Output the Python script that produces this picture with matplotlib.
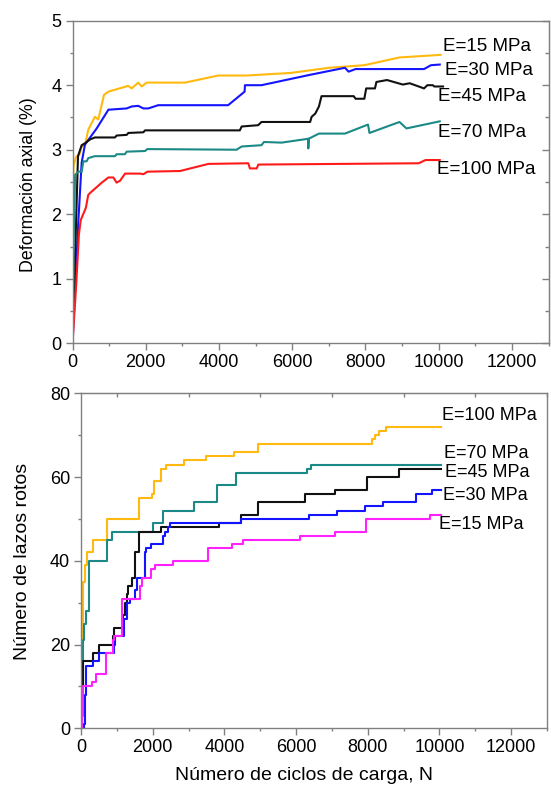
import matplotlib

matplotlib.use("Agg")
import matplotlib.pyplot as plt
from matplotlib.ticker import MultipleLocator

plt.rcParams["font.family"] = ["Liberation Sans", "DejaVu Sans"]

# --- panel superior: deformacion axial (%) vs ciclos ---
n_e15 = [0, 25, 95, 185, 250, 340, 430, 610, 705, 860, 980, 1520, 1615, 1795, 1890,
         2025, 3070, 3980, 4750, 5960, 6480, 7010, 7970, 8930, 10050]
d_e15 = [0, 2.74, 2.89, 2.92, 3.05, 3.07, 3.31, 3.51, 3.47, 3.85, 3.90, 3.99, 3.95, 4.04, 3.98,
         4.04, 4.04, 4.15, 4.15, 4.19, 4.23, 4.27, 4.31, 4.43, 4.47]

n_e30 = [0, 25, 160, 250, 340, 660, 980, 1480, 1615, 1795, 1935, 2070, 2340, 4250, 4700,
         4710, 5160, 6480, 7440, 7540, 7730, 9600, 9790, 10030]
d_e30 = [0, 0.3, 1.9, 2.8, 3.08, 3.33, 3.62, 3.64, 3.67, 3.68, 3.64, 3.64, 3.69, 3.69, 3.90,
         4.00, 4.00, 4.16, 4.27, 4.21, 4.25, 4.25, 4.31, 4.32]

n_e45 = [0, 150, 250, 340, 480, 610, 1160, 1205, 1480, 1525, 1935, 1980, 4570, 4620, 5070,
         5160, 6490, 6530, 6630, 6730, 6800, 7680, 7730, 7970, 8020, 8260, 8300, 8590, 9020,
         9210, 9600, 9690, 9840, 9880, 10120]
d_e45 = [0, 2.9, 3.07, 3.10, 3.16, 3.19, 3.19, 3.22, 3.23, 3.26, 3.27, 3.30, 3.30, 3.36, 3.38,
         3.43, 3.43, 3.51, 3.56, 3.67, 3.83, 3.83, 3.79, 3.79, 3.95, 3.95, 4.05, 4.08, 4.01,
         4.03, 3.95, 4.00, 4.00, 3.98, 3.98]

n_e70 = [0, 30, 70, 160, 250, 295, 385, 430, 610, 1160, 1205, 1430, 1480, 1980, 2045, 4480,
         4620, 5160, 5230, 5710, 6440, 6440, 6450, 6730, 7440, 8070, 8110, 8930, 9120, 10030]
d_e70 = [0, 1.5, 2.61, 2.66, 2.66, 2.82, 2.82, 2.87, 2.90, 2.90, 2.93, 2.93, 2.97, 2.98, 3.01,
         3.00, 3.05, 3.07, 3.12, 3.11, 3.17, 3.02, 3.17, 3.25, 3.25, 3.39, 3.26, 3.43, 3.33, 3.44]

n_e100 = [0, 100, 175, 225, 365, 430, 480, 800, 980, 1115, 1205, 1300, 1435, 1845, 1935, 2045,
          2935, 3710, 4800, 4845, 5030, 5075, 9455, 9640, 10030]
d_e100 = [0, 0.9, 1.69, 1.91, 2.10, 2.30, 2.33, 2.49, 2.57, 2.57, 2.49, 2.52, 2.63, 2.63, 2.62,
          2.66, 2.67, 2.78, 2.79, 2.71, 2.71, 2.77, 2.79, 2.84, 2.84]

# --- panel inferior: numero de lazos rotos (escalones) ---
nb_e100 = [0, 20, 50, 112, 177, 344, 716, 1628, 1972, 2037, 2223, 2372, 2874, 3478, 4269,
           4948, 8130, 8200, 8300, 8520, 10040]
l_e100 = [0, 20, 35, 39, 42, 45, 50, 55, 56, 59, 62, 63, 64, 65, 66, 68, 69, 70, 71, 72, 72]

nb_e70 = [0, 20, 47, 84, 140, 233, 735, 856, 2018, 2297, 3153, 3804, 4315, 6218, 6300, 6413,
          10040]
l_e70 = [0, 10, 21, 25, 28, 40, 45, 47, 49, 52, 54, 58, 61, 61, 62, 63, 63]

nb_e45 = [0, 20, 47, 344, 512, 902, 921, 1181, 1228, 1274, 1321, 1414, 1507, 1628, 2223, 3860,
          4455, 4948, 6250, 7100, 7982, 8864, 10040]
l_e45 = [0, 10, 16, 18, 20, 22, 24, 27, 30, 32, 34, 36, 42, 47, 48, 49, 51, 54, 56, 57, 60, 62, 62]

nb_e30 = [0, 84, 110, 140, 344, 512, 921, 949, 1200, 1274, 1367, 1507, 1572, 1786, 1814, 1944,
          2279, 2344, 2437, 2483, 4455, 6365, 7150, 7935, 8424, 9335, 9796, 10040]
l_e30 = [0, 1, 8, 15, 16, 18, 20, 22, 26, 30, 31, 33, 36, 42, 43, 44, 46, 47, 48, 49, 50, 51,
         52, 53, 54, 56, 57, 57]

nb_e15 = [0, 20, 47, 298, 419, 688, 884, 921, 1135, 1646, 1693, 1944, 2065, 2576, 3553, 4204,
          4529, 6110, 7100, 7953, 9747, 10040]
l_e15 = [0, 3, 10, 11, 13, 18, 21, 22, 31, 34, 36, 38, 39, 40, 43, 44, 45, 46, 47, 50, 51, 51]

labels = ["E=15 MPa", "E=30 MPa", "E=45 MPa", "E=70 MPa", "E=100 MPa"]
top_label_pos = [(10120, 4.60), (10170, 4.23), (9980, 3.82), (9980, 3.26), (9955, 2.69)]
bot_label_pos = [(9995, 48.6), (10090, 55.7), (10153, 61.0), (10125, 65.7), (10060, 74.6)]

YELLOW = "#FFB90F"
BLUE = "#1414FF"
BLACK = "#111111"
TEAL = "#1B8A86"
RED = "#FF1A1A"
MAGENTA = "#FF22FF"
SPINE = "#808080"


def style_axes(ax):
    for s in ax.spines.values():
        s.set_color(SPINE)
        s.set_linewidth(1.0)
    ax.tick_params(which="both", direction="out", colors=SPINE, labelcolor="black",
                   labelsize=13, width=1.0, pad=3)
    ax.tick_params(which="major", length=5)
    ax.tick_params(which="minor", length=2.5)


fig = plt.figure(figsize=(5.51, 7.89), dpi=100)
ax1 = fig.add_axes([0.1316, 0.5649, 0.8639, 0.4089])
ax2 = fig.add_axes([0.1470, 0.0769, 0.8457, 0.4246])

lw = 1.5
ax1.plot(n_e15, d_e15, color=YELLOW, lw=lw)
ax1.plot(n_e30, d_e30, color=BLUE, lw=lw)
ax1.plot(n_e45, d_e45, color=BLACK, lw=lw)
ax1.plot(n_e70, d_e70, color=TEAL, lw=lw)
ax1.plot(n_e100, d_e100, color=RED, lw=lw)
ax1.set_xlim(0, 13000)
ax1.set_ylim(0, 5)
ax1.xaxis.set_major_locator(MultipleLocator(2000))
ax1.xaxis.set_minor_locator(MultipleLocator(1000))
ax1.yaxis.set_major_locator(MultipleLocator(1))
ax1.yaxis.set_minor_locator(MultipleLocator(0.5))
style_axes(ax1)
# ticks hacia dentro en el eje derecho
ax1r = ax1.secondary_yaxis("right")
ax1r.yaxis.set_major_locator(MultipleLocator(1))
ax1r.yaxis.set_minor_locator(MultipleLocator(0.5))
ax1r.tick_params(which="both", direction="in", colors=SPINE, labelright=False, width=1.0)
ax1r.tick_params(which="major", length=5)
ax1r.tick_params(which="minor", length=3)
ax1r.spines["right"].set_color(SPINE)
for txt, (x, y) in zip(labels, top_label_pos):
    ax1.text(x, y, txt, fontsize=13.5, ha="left", va="center", clip_on=False)

ax2.plot(nb_e100, l_e100, color=YELLOW, lw=lw, drawstyle="steps-post")
ax2.plot(nb_e70, l_e70, color=TEAL, lw=lw, drawstyle="steps-post")
ax2.plot(nb_e45, l_e45, color=BLACK, lw=lw, drawstyle="steps-post")
ax2.plot(nb_e30, l_e30, color=BLUE, lw=lw, drawstyle="steps-post")
ax2.plot(nb_e15, l_e15, color=MAGENTA, lw=lw, drawstyle="steps-post")
ax2.set_xlim(0, 13000)
ax2.set_ylim(0, 80)
ax2.xaxis.set_major_locator(MultipleLocator(2000))
ax2.xaxis.set_minor_locator(MultipleLocator(1000))
ax2.yaxis.set_major_locator(MultipleLocator(20))
ax2.yaxis.set_minor_locator(MultipleLocator(10))
style_axes(ax2)
# ticks menores hacia dentro arriba
ax2t = ax2.secondary_xaxis("top")
ax2t.xaxis.set_major_locator(MultipleLocator(2000))
ax2t.xaxis.set_minor_locator(MultipleLocator(1000))
ax2t.tick_params(which="both", direction="in", colors=SPINE, labeltop=False, width=1.0)
ax2t.tick_params(which="major", length=0)
ax2t.tick_params(which="minor", length=3)
ax2t.spines["top"].set_color(SPINE)
for txt, (x, y) in zip(labels, bot_label_pos):
    ax2.text(x, y, txt, fontsize=13, ha="left", va="center", clip_on=False)

fig.text(29 / 551, 1 - 185 / 789, "Deformación axial (%)", rotation=90,
         ha="center", va="center", fontsize=12.8)
fig.text(22.5 / 551, 1 - 561 / 789, "Número de lazos rotos", rotation=90,
         ha="center", va="center", fontsize=14)
fig.text(304 / 551, 1 - 775 / 789, "Número de ciclos de carga, N",
         ha="center", va="center", fontsize=14)

fig.savefig("out.png", dpi=100)
